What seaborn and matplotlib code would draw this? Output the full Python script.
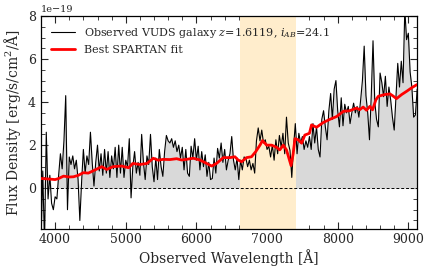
import matplotlib

matplotlib.use("Agg")
import matplotlib.pyplot as plt
import numpy as np
import pandas as pd
import seaborn as sns
from matplotlib.ticker import MultipleLocator

# observed spectrum, sampled every 25 A from 3800 A (units of 1e-19 erg/s/cm2/A)
obs_start = 3800
obs_step = 25
obs_flux = [
    # 3800 - 4000
    -2.6, 0.8, -2.6, 2.6, -0.5, 0.6, -0.7, -1.0, -0.4,
    # 4025 - 4500
    -0.5, 0.6, 1.6, 0.9, 2.2, 4.3, -1.0, 1.45, 1.1, 1.5, 0.9, 1.3, 0.4, -1.5,
    0.3, 1.8, 0.7, 1.5, 1.1, 2.6,
    # 4525 - 5000
    1.2, 0.1, 1.2, 2.0, 0.8, 1.6, 0.6, 1.8, 0.7, 1.7, 0.5, 1.5, 0.9, 1.9,
    0.5, 2.0, 0.7, 1.9, 0.5, 1.3,
    # 5025 - 6200
    1.0, 2.3, -0.45, 1.0, 1.7, 0.7, 1.2, 0.6, 2.5, 1.2, 0.4, 1.5, 1.1, 2.5,
    1.0, 0.3, 1.4, 0.4, 1.8, 1.0, 0.55, 1.7, 2.45, 2.2, 2.1, 2.3, 1.9, 2.2,
    1.7, 2.0, 1.4, 1.9, 0.85, 1.8, 0.7, 0.55, 1.95, 1.4, 2.3, 1.3, 1.95,
    0.85, 1.7, 1.0, 1.55, 0.55, 1.2, 0.4,
    # 6225 - 7400
    0.45, 1.4, 0.7, 1.85, 1.4, 2.1, 1.2, 1.8, 0.85, 1.3, 1.6, 2.4, 1.3, 0.85,
    1.4, 0.4, 1.3, 0.85, 1.45, 1.4, 1.0, 1.3, 0.85, 1.15, 0.7, 2.2, 2.8, 2.2,
    2.7, 2.1, 2.25, 1.8, 1.95, 1.45, 2.0, 1.3, 2.25, 1.6, 2.45, 1.9, 2.55,
    1.6, 3.3, 2.1, 1.75, 0.5, 1.9, 3.0,
    # 7425 - 8300
    1.6, 2.55, 2.1, 2.4, 1.8, 2.2, 1.9, 2.4, 1.8, 3.0, 2.1, 2.85, 1.8, 1.45,
    3.2, 3.6, 2.85, 2.25, 3.6, 4.4, 3.2, 4.6, 5.0, 3.6, 2.85, 4.2, 2.9, 3.9,
    3.5, 3.8, 3.0, 3.5, 3.95, 3.5, 3.8, 3.3,
    # 8325 - 9125
    4.1, 5.0, 6.6, 4.3, 3.5, 2.25, 4.3, 6.85, 4.0, 3.2, 2.85, 5.35, 4.9, 4.25,
    5.2, 3.8, 4.7, 4.1, 3.3, 2.7, 4.3, 5.8, 4.7, 5.9, 4.9, 8.3, 6.9, 7.2, 5.4,
    4.7, 3.3, 3.4, 4.6,
]

# best-fit model
fit_wave = [
    3800, 3900, 4000, 4050, 4120, 4200, 4260, 4330, 4400, 4470, 4560, 4660,
    4730, 4820, 4940, 5040, 5100, 5200, 5300, 5390, 5460, 5530, 5625, 5720,
    5790, 5860, 5955, 6050, 6145, 6215, 6285, 6380, 6475, 6545, 6590, 6640,
    6710, 6780, 6840, 6900, 6935, 6995, 7065, 7135, 7180, 7230, 7275, 7300,
    7340, 7370, 7395, 7440, 7490, 7535, 7600, 7630, 7700, 7795, 7890, 7985,
    8080, 8170, 8265, 8313, 8360, 8408, 8455, 8493, 8540, 8575, 8665, 8740,
    8785, 8832, 8905, 8975, 9045, 9120,
]
fit_flux = [
    0.45, 0.43, 0.40, 0.45, 0.56, 0.52, 0.53, 0.60, 0.72, 0.70, 0.84, 1.00,
    0.87, 1.00, 1.03, 0.95, 1.15, 1.10, 1.15, 1.39, 1.30, 1.34, 1.33, 1.37,
    1.31, 1.34, 1.39, 1.31, 1.15, 1.03, 1.15, 1.42, 1.42, 1.46, 1.31, 1.23,
    1.42, 1.46, 1.70, 2.00, 2.21, 2.00, 2.00, 1.90, 1.78, 2.00, 1.78, 1.50,
    1.05, 1.60, 2.30, 2.25, 2.09, 2.47, 2.55, 2.94, 2.83, 3.05, 3.20, 3.33,
    3.57, 3.60, 3.72, 3.65, 3.77, 3.62, 3.80, 3.64, 4.10, 4.27, 4.35, 4.38,
    4.28, 4.16, 4.35, 4.50, 4.66, 4.81,
]

band_lo, band_hi = 6615, 7410

obs = pd.DataFrame({
    "wave": obs_start + obs_step * np.arange(len(obs_flux)),
    "flux": obs_flux,
})
fit = pd.DataFrame({"wave": fit_wave, "flux": fit_flux})

sns.set_theme(style="ticks")
plt.rcParams["font.family"] = ["DejaVu Serif"]
plt.rcParams["mathtext.fontset"] = "dejavuserif"

fig = plt.figure(figsize=(4.36, 2.76), dpi=100)
ax = fig.add_axes([0.094, 0.170, 0.862, 0.772])

ax.fill_between(obs["wave"], 0, obs["flux"].clip(lower=0), color="0.85", lw=0, zorder=1)
ax.axvspan(band_lo, band_hi, color="#ffedcc", lw=0, zorder=2)
ax.axhline(0, color="black", ls=(0, (3, 2)), lw=0.7, zorder=3)

sns.lineplot(data=obs, x="wave", y="flux", color="black", lw=0.8, estimator=None,
             label=r"Observed VUDS galaxy $z$=1.6119, $i_{AB}$=24.1", ax=ax, zorder=4)
sns.lineplot(data=fit, x="wave", y="flux", color="red", lw=2.0, estimator=None,
             label="Best SPARTAN fit", ax=ax, zorder=5)

ax.set_xlim(3800, 9120)
ax.set_ylim(-1.9, 8)
ax.xaxis.set_major_locator(MultipleLocator(1000))
ax.xaxis.set_minor_locator(MultipleLocator(200))
ax.yaxis.set_major_locator(MultipleLocator(2))
ax.yaxis.set_minor_locator(MultipleLocator(0.5))
ax.tick_params(which="both", direction="in", top=True, right=True, labelsize=9)
ax.tick_params(which="major", length=5, width=0.8)
ax.tick_params(which="minor", length=3, width=0.6)
ax.tick_params(axis="x", pad=3)
for s in ax.spines.values():
    s.set_linewidth(0.9)
    s.set_color("black")

# flux unit multiplier above the top-left corner
ax.text(0.0, 1.008, "1e\u221219", transform=ax.transAxes, fontsize=7,
        ha="left", va="bottom")

ax.set_xlabel("Observed Wavelength [Å]", fontsize=10, labelpad=2)
ax.set_ylabel(r"Flux Density [erg/s/cm$^2$/Å]", fontsize=10)
ax.legend(loc="upper left", frameon=False, fontsize=8, handlelength=2.2,
          borderaxespad=0.5, labelspacing=0.45)

fig.savefig("out.png", dpi=100)
